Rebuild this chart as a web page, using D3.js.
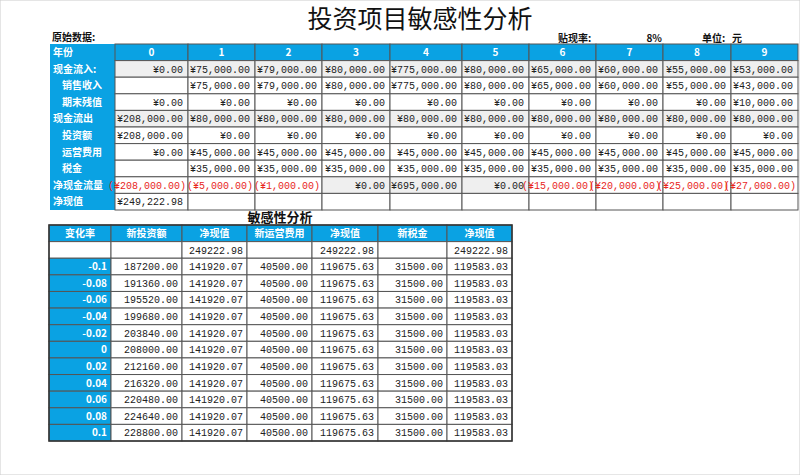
<!DOCTYPE html><html><head><meta charset="utf-8"><script src="https://cdn.jsdelivr.net/npm/d3@7"></script>
<style>body{margin:0;background:#fff}</style></head><body><svg id="c" width="800" height="475"></svg>
<script>
const years=["0","1","2","3","4","5","6","7","8","9"];
const rowLabels=["现金流入:","销售收入","期末残值","现金流出","投资额","运营费用","税金","净现金流量","净现值"];
const indented=[false,true,true,false,true,true,true,false,false];
const shaded=[true,false,false,true,false,false,false,true,false];
const cashIn=[0,75000,79000,80000,775000,80000,65000,60000,55000,53000];
const sales=[null,75000,79000,80000,775000,80000,65000,60000,55000,43000];
const residual=[0,0,0,0,0,0,0,0,0,10000];
const cashOut=[208000,80000,80000,80000,80000,80000,80000,80000,80000,80000];
const invest=[208000,0,0,0,0,0,0,0,0,0];
const opCost=[0,45000,45000,45000,45000,45000,45000,45000,45000,45000];
const tax=[null,35000,35000,35000,35000,35000,35000,35000,35000,35000];
const netFlow=[-208000,-5000,-1000,0,695000,0,-15000,-20000,-25000,-27000];
const npv=[249222.98,null,null,null,null,null,null,null,null,null];
const sensHeaders=["变化率","新投资额","净现值","新运营费用","净现值","新税金","净现值"];
const rates=["-0.1","-0.08","-0.06","-0.04","-0.02","0","0.02","0.04","0.06","0.08","0.1"];
const newInvest=[187200,191360,195520,199680,203840,208000,212160,216320,220480,224640,228800];
const npvInvest=Array(11).fill(141920.07);
const newOp=Array(11).fill(40500);
const npvOp=Array(11).fill(119675.63);
const newTax=Array(11).fill(31500);
const npvTax=Array(11).fill(119583.03);
const baseNpv=249222.98;

const svg=d3.select("#c");
const BLUE="#0aa2e3",GRID="#555",GRAY="#efefef";
const LF="'Noto Sans CJK SC',sans-serif", NF="'Liberation Mono','Noto Sans CJK SC',monospace";
const fmt=v=>{if(v==null)return"";const s="¥"+d3.format(",.2f")(Math.abs(v));return v<0?"("+s+")":s;};

svg.append("rect").attr("x",0).attr("y",0).attr("width",800).attr("height",475).attr("fill","none").attr("stroke","#ccc");
svg.append("text").attr("x",420).attr("y",28).attr("text-anchor","middle").attr("font-family",LF).attr("font-size",25).attr("fill","#111").text("投资项目敏感性分析");
const small=(x,y,t,a)=>svg.append("text").attr("x",x).attr("y",y).attr("text-anchor",a||"start").attr("font-family",LF).attr("font-size",10).attr("font-weight","bold").attr("fill","#111").text(t);
small(52,41,"原始数据:");small(558,42,"贴现率:");small(662,42,"8%","end");small(702,42,"单位:");small(732,42,"元");

const edges=[115,188,255,322,390,462,529,596,663,731,798];
const colX=i=>edges[i], colW=i=>edges[i+1]-edges[i];
const y=d3.scaleBand().domain(d3.range(10)).range([44,210]);
const data=[cashIn,sales,residual,cashOut,invest,opCost,tax,netFlow,npv];
svg.append("rect").attr("x",50).attr("y",44).attr("width",65).attr("height",166).attr("fill",BLUE);
svg.selectAll(".hd").data(years).join("rect").attr("x",(d,i)=>colX(i)).attr("y",y(0)).attr("width",(d,i)=>colW(i)).attr("height",y.bandwidth()).attr("fill",BLUE).attr("stroke",GRID).attr("stroke-width",1);
svg.selectAll(".hdt").data(years).join("text").attr("x",(d,i)=>colX(i)+colW(i)/2).attr("y",y(0)+12).attr("text-anchor","middle").attr("font-family",LF).attr("font-weight","bold").attr("font-size",10).attr("fill","#fff").text(d=>d);
svg.append("text").attr("x",53).attr("y",y(0)+12).attr("font-family",LF).attr("font-weight","bold").attr("font-size",10).attr("fill","#fff").text("年份");
data.forEach((arr,r)=>{
  const yy=y(r+1);
  svg.append("text").attr("x",indented[r]?62:53).attr("y",yy+12).attr("font-family",LF).attr("font-weight","bold").attr("font-size",10).attr("fill","#fff").text(rowLabels[r]);
  const g=svg.append("g");
  g.selectAll("rect").data(arr).join("rect").attr("x",(d,i)=>colX(i)).attr("y",yy).attr("width",(d,i)=>colW(i)).attr("height",y.bandwidth()).attr("fill",(d,i)=>shaded[r]&&!(r==7&&netFlow[i]<0)?GRAY:"#fff").attr("stroke",GRID);
  g.selectAll("text").data(arr).join("text").attr("x",(d,i)=>colX(i)+colW(i)-(d<0?2:5)).attr("y",yy+12).attr("text-anchor","end").attr("font-family",NF).attr("font-size",10).attr("fill",d=>d<0?"#e8261c":"#222").text(fmt);
});

svg.append("text").attr("x",280).attr("y",222).attr("text-anchor","middle").attr("font-family",LF).attr("font-weight","bold").attr("font-size",13).attr("fill","#111").text("敏感性分析");
const se=[49,111,182,247,312,378,447,512];
const sy=d3.scaleBand().domain(d3.range(13)).range([225,441]);
const sx=i=>se[i], sw=i=>se[i+1]-se[i];
const cell=(i,r,fill,txt,color,anchor,bold)=>{
  svg.append("rect").attr("x",sx(i)).attr("y",sy(r)).attr("width",sw(i)).attr("height",sy.bandwidth()).attr("fill",fill).attr("stroke",GRID);
  if(txt!=="")svg.append("text").attr("x",anchor=="middle"?sx(i)+sw(i)/2:sx(i)+sw(i)-4).attr("y",sy(r)+12).attr("text-anchor",anchor).attr("font-family",bold?LF:NF).attr("font-weight",bold?"bold":"normal").attr("font-size",10).attr("fill",color).text(txt);
};
sensHeaders.forEach((h,i)=>cell(i,0,BLUE,h,"#fff","middle",true));
const baseRow=["","",baseNpv.toFixed(2),"",baseNpv.toFixed(2),"",baseNpv.toFixed(2)];
baseRow.forEach((t,i)=>cell(i,1,"#fff",t,"#222","end"));
const sensCols=[newInvest,npvInvest,newOp,npvOp,newTax,npvTax];
rates.forEach((rt,k)=>{
  cell(0,k+2,BLUE,rt,"#fff","end",true);
  sensCols.forEach((c,j)=>cell(j+1,k+2,"#fff",c[k].toFixed(2),"#222","end"));
});
svg.append("rect").attr("x",49).attr("y",225).attr("width",463).attr("height",216).attr("fill","none").attr("stroke","#333").attr("stroke-width",1.5);
</script></body></html>
